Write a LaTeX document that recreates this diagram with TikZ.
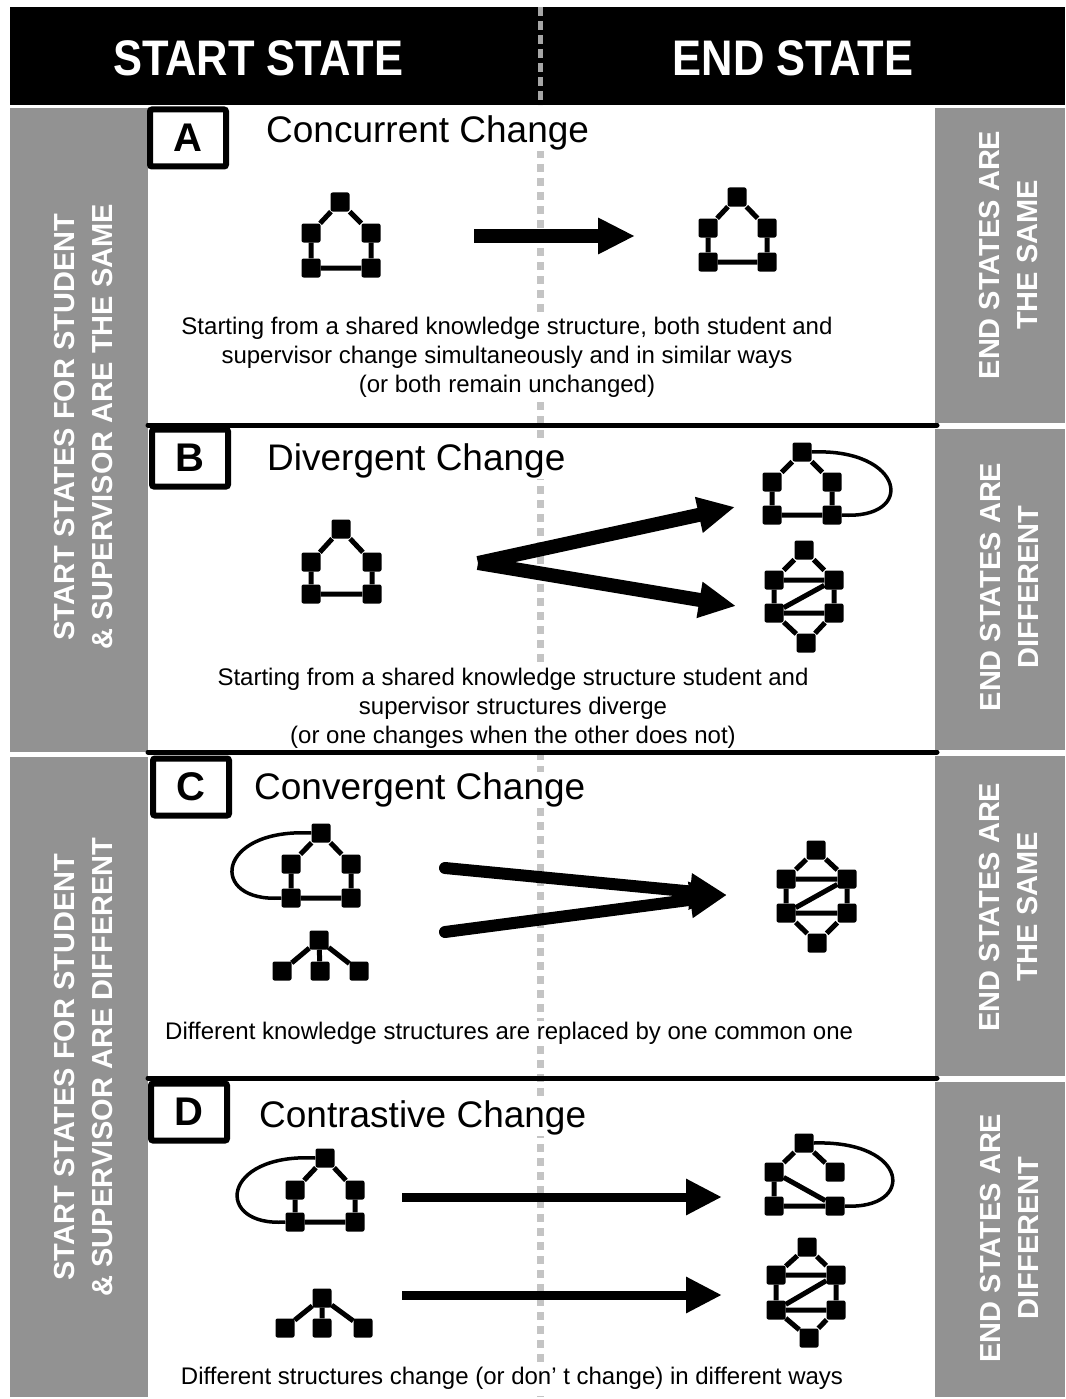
\documentclass[tikz,border=0pt]{standalone}
\usepackage{fontspec}
\setmainfont{Liberation Sans}
\newfontfamily\headfont[FakeStretch=0.87]{Liberation Sans}
\usetikzlibrary{arrows.meta,positioning}
\definecolor{bandgray}{HTML}{929292}
\definecolor{dashgray}{HTML}{C4C4C4}

\tikzset{
  head/.style={text=white, font=\headfont\bfseries\fontsize{50}{50}\selectfont},
  bandtxt/.style={text=white, rotate=90, align=center, font=\bfseries\fontsize{29}{38}\selectfont},
  vtx/.style={fill=black, minimum size=19pt, inner sep=0pt, rounded corners=2pt},
  edg/.style={line width=5pt},
  lbl/.style={draw, line width=6pt, fill=white, rounded corners=2pt, minimum width=76pt, minimum height=57pt, font=\bfseries\fontsize{40}{40}\selectfont},
  ttl/.style={anchor=west, fill=white, inner sep=1pt, font=\fontsize{37}{37}\selectfont},
  capt/.style={align=center, fill=white, inner sep=1pt, font=\fontsize{24}{29}\selectfont},
  sep/.style={line width=5pt, line cap=round},
  fat/.style={line width=14pt, -{Triangle[length=37pt,width=34pt]}},
  thin/.style={line width=9pt, -{Triangle[length=36pt,width=34pt]}},
}

\begin{document}
\begin{tikzpicture}[x=1pt,y=-1pt]
\useasboundingbox (0,0) rectangle (1065,1399);

% header and side bands
\fill[black] (10,7) rectangle (1065,105);
\fill[bandgray] (10,108) rectangle (148,752);
\fill[bandgray] (10,757) rectangle (148,1397);
\fill[bandgray] (935,108) rectangle (1065,423);
\fill[bandgray] (935,429) rectangle (1065,750);
\fill[bandgray] (935,756) rectangle (1065,1076);
\fill[bandgray] (935,1082) rectangle (1065,1397);

% middle line
\draw[gray!70, line width=5pt, dash pattern=on 9pt off 5pt] (540,7) -- (540,105);
\draw[dashgray, line width=7pt, dash pattern=on 8pt off 6pt] (540,150) -- (540,1397);

% panel separators
\draw[sep] (148,425) -- (937,425);
\draw[sep] (148,752) -- (937,752);
\draw[sep] (148,1078) -- (937,1078);

\node[head] (start) at (258,58) {START STATE};
\node[head] (end) at (793,58) {END STATE};

\node[bandtxt] (s1) at (84,427) {START STATES FOR STUDENT\\\& SUPERVISOR ARE THE SAME};
\node[bandtxt] (s2) at (84,1067) {START STATES FOR STUDENT\\\& SUPERVISOR ARE DIFFERENT};
\node[bandtxt] (e1) at (1009,255) {END STATES ARE\\THE SAME};
\node[bandtxt] (e2) at (1009,587) {END STATES ARE\\DIFFERENT};
\node[bandtxt] (e3) at (1009,907) {END STATES ARE\\THE SAME};
\node[bandtxt] (e4) at (1009,1238) {END STATES ARE\\DIFFERENT};

% panel A
\node[lbl] (la) at (188,138) {A};
\node[ttl] (ta) at (265,133) {Concurrent Change};
\node[capt] (ca) at (507,357) {Starting from a shared knowledge structure, both student and\\supervisor change simultaneously and in similar ways\\(or both remain unchanged)};

\node[vtx] (a1) at (340,202) {};
\node[vtx] (a2) at (311,233) {};
\node[vtx] (a3) at (371,233) {};
\node[vtx] (a4) at (311,268) {};
\node[vtx] (a5) at (371,268) {};
\draw[edg] (a1) -- (a2) (a1) -- (a3) (a2) -- (a4) (a3) -- (a5) (a4) -- (a5);

\node[vtx] (a6) at (737,197) {};
\node[vtx] (a7) at (708,228) {};
\node[vtx] (a8) at (767,228) {};
\node[vtx] (a9) at (708,262) {};
\node[vtx] (a10) at (767,262) {};
\draw[edg] (a6) -- (a7) (a6) -- (a8) (a7) -- (a9) (a8) -- (a10) (a9) -- (a10);

\coordinate (aa) at (474,236);
\coordinate (ab) at (635,236);
\draw[fat] (aa) -- (ab);

% panel B
\node[lbl] (lb) at (190,458) {B};
\node[ttl] (tb) at (266,461) {Divergent Change};
\node[capt] (cb) at (513,708) {Starting from a shared knowledge structure student and\\supervisor structures diverge\\(or one changes when the other does not)};

\node[vtx] (b1) at (341,529) {};
\node[vtx] (b2) at (311,562) {};
\node[vtx] (b3) at (372,562) {};
\node[vtx] (b4) at (311,594) {};
\node[vtx] (b5) at (372,594) {};
\draw[edg] (b1) -- (b2) (b1) -- (b3) (b2) -- (b4) (b3) -- (b5) (b4) -- (b5);

\node[vtx] (b6) at (802,452) {};
\node[vtx] (b7) at (772,482) {};
\node[vtx] (b8) at (832,482) {};
\node[vtx] (b9) at (772,515) {};
\node[vtx] (b10) at (832,515) {};
\draw[edg] (b6) -- (b7) (b6) -- (b8) (b7) -- (b9) (b8) -- (b10) (b9) -- (b10);
\draw[line width=3.5pt] (b6.east) .. controls (905,448) and (917,520) .. (b10.east);

\node[vtx] (b11) at (804,550) {};
\node[vtx] (b12) at (774,580) {};
\node[vtx] (b13) at (834,580) {};
\node[vtx] (b14) at (774,613) {};
\node[vtx] (b15) at (834,613) {};
\node[vtx] (b16) at (806,643) {};
\draw[edg] (b11) -- (b12) (b11) -- (b13) (b12) -- (b13) (b12) -- (b14) (b13) -- (b15)
  (b13) -- (b14) (b14) -- (b15) (b14) -- (b16) (b15) -- (b16);

\coordinate (bv) at (478,563);
\coordinate (bu) at (735,507);
\coordinate (bl) at (736,606);
\draw[fat] (bv) -- (bu);
\draw[fat] (bv) -- (bl);

% panel C
\node[lbl] (lc) at (191,787) {C};
\node[ttl] (tc) at (253,790) {Convergent Change};
\node[capt, anchor=west] (cc) at (164,1033) {Different knowledge structures are replaced by one common one};

\node[vtx] (c1) at (321,833) {};
\node[vtx] (c2) at (291,864) {};
\node[vtx] (c3) at (351,864) {};
\node[vtx] (c4) at (291,898) {};
\node[vtx] (c5) at (351,898) {};
\draw[edg] (c1) -- (c2) (c1) -- (c3) (c2) -- (c4) (c3) -- (c5) (c4) -- (c5);
\draw[line width=3.5pt] (c1.west) .. controls (215,828) and (208,903) .. (c4.west);

\node[vtx] (c6) at (319,940) {};
\node[vtx] (c7) at (282,971) {};
\node[vtx] (c8) at (320,971) {};
\node[vtx] (c9) at (359,971) {};
\draw[edg] (c6) -- (c7) (c6) -- (c8) (c6) -- (c9);

\node[vtx] (c10) at (816,850) {};
\node[vtx] (c11) at (786,879) {};
\node[vtx] (c12) at (847,879) {};
\node[vtx] (c13) at (786,913) {};
\node[vtx] (c14) at (847,913) {};
\node[vtx] (c15) at (817,943) {};
\draw[edg] (c10) -- (c11) (c10) -- (c12) (c11) -- (c12) (c11) -- (c13) (c12) -- (c14)
  (c12) -- (c13) (c13) -- (c14) (c13) -- (c15) (c14) -- (c15);

\coordinate (cu) at (445,868);
\coordinate (cd) at (445,932);
\coordinate (ct) at (727,895);
\draw[fat, line width=12pt, line cap=round] (cu) -- (ct);
\draw[fat, line width=12pt, line cap=round] (cd) -- (ct);

% panel D
\node[lbl] (ld) at (189,1112) {D};
\node[ttl] (td) at (258,1118) {Contrastive Change};
\node[capt] (cd2) at (512,1378) {Different structures change (or don’ t change) in different ways};

\node[vtx] (d1) at (325,1158) {};
\node[vtx] (d2) at (295,1190) {};
\node[vtx] (d3) at (355,1190) {};
\node[vtx] (d4) at (295,1222) {};
\node[vtx] (d5) at (355,1222) {};
\draw[edg] (d1) -- (d2) (d1) -- (d3) (d2) -- (d4) (d3) -- (d5) (d4) -- (d5);
\draw[line width=3.5pt] (d1.west) .. controls (220,1153) and (214,1227) .. (d4.west);

\node[vtx] (d6) at (322,1298) {};
\node[vtx] (d7) at (285,1328) {};
\node[vtx] (d8) at (322,1328) {};
\node[vtx] (d9) at (363,1328) {};
\draw[edg] (d6) -- (d7) (d6) -- (d8) (d6) -- (d9);

\node[vtx] (d10) at (804,1143) {};
\node[vtx] (d11) at (774,1172) {};
\node[vtx] (d12) at (835,1172) {};
\node[vtx] (d13) at (774,1206) {};
\node[vtx] (d14) at (835,1206) {};
\draw[edg] (d10) -- (d11) (d10) -- (d12) (d11) -- (d13) (d11) -- (d14) (d13) -- (d14);
\draw[line width=3.5pt] (d10.east) .. controls (910,1140) and (916,1210) .. (d14.east);

\node[vtx] (d15) at (807,1247) {};
\node[vtx] (d16) at (776,1275) {};
\node[vtx] (d17) at (836,1275) {};
\node[vtx] (d18) at (776,1310) {};
\node[vtx] (d19) at (836,1310) {};
\node[vtx] (d20) at (809,1338) {};
\draw[edg] (d15) -- (d16) (d15) -- (d17) (d16) -- (d17) (d16) -- (d18) (d17) -- (d19)
  (d17) -- (d18) (d18) -- (d19) (d18) -- (d20) (d19) -- (d20);

\coordinate (du) at (402,1197);
\coordinate (dv) at (722,1197);
\coordinate (dl) at (402,1295);
\coordinate (dr) at (722,1295);
\draw[thin] (du) -- (dv);
\draw[thin] (dl) -- (dr);
\end{tikzpicture}
\end{document}
